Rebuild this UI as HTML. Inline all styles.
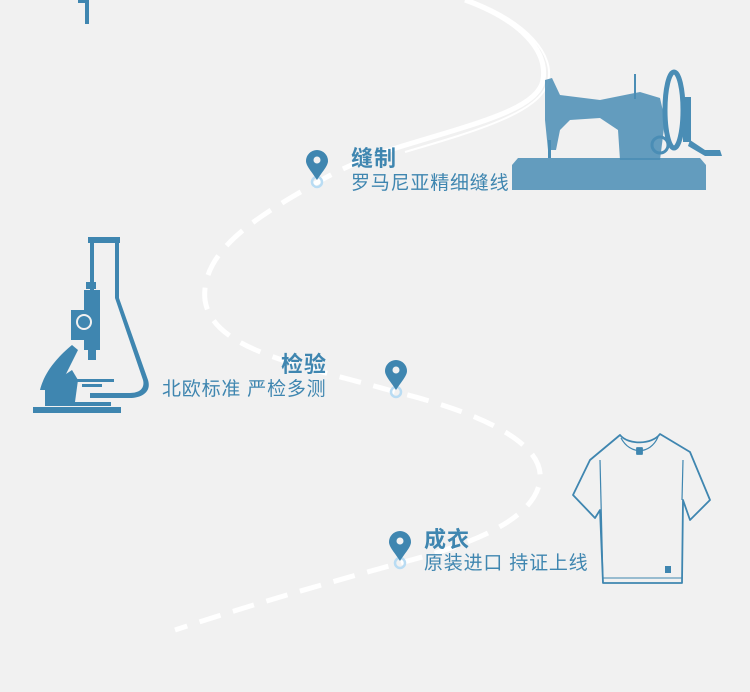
<!DOCTYPE html>
<html><head><meta charset="utf-8"><style>
body{margin:0;background:#f1f1f1;}
#c{position:relative;width:750px;height:692px;overflow:hidden;background:#f1f1f1;font-family:"Liberation Sans","Noto Sans CJK SC",sans-serif;color:#3f86b0}
.t{position:absolute;white-space:nowrap}
.h{font-size:22px;font-weight:bold;letter-spacing:1px}
.s{font-size:19px;letter-spacing:0.8px}
</style></head><body><div id="c">
<svg width="750" height="692" style="position:absolute;left:0;top:0">
<g fill="none" stroke="#fff" stroke-linecap="butt">
<path d="M465,0 C520,20 548,50 543,80 C538,110 470,125 396,148" stroke-width="5"/>
<path d="M470,0 C528,22 555,55 548,82 C540,112 480,130 405,152" stroke-width="2"/>
<path d="M396,148 C360,160 335,172 318,182 C260,215 200,250 205,300 C212,350 300,365 396,392 C470,410 545,440 540,480 C535,520 470,545 400,563 C320,585 250,605 175,630" stroke-width="5" stroke-dasharray="22,13"/>
</g>
<g>
<circle cx="317" cy="182" r="5" fill="none" stroke="#b9dcf3" stroke-width="2.5"/>
<path d="M317,180 C312,172 306,166 306,161 A11,11 0 1 1 328,161 C328,166 322,172 317,180Z" fill="#3f86b0"/><circle cx="317" cy="160" r="3.5" fill="#f1f1f1"/>
<circle cx="396" cy="392" r="5" fill="none" stroke="#b9dcf3" stroke-width="2.5"/>
<path d="M396,390 C391,382 385,376 385,371 A11,11 0 1 1 407,371 C407,376 401,382 396,390Z" fill="#3f86b0"/><circle cx="396" cy="370" r="3.5" fill="#f1f1f1"/>
<circle cx="400" cy="563" r="5" fill="none" stroke="#b9dcf3" stroke-width="2.5"/>
<path d="M400,561 C395,553 389,547 389,542 A11,11 0 1 1 411,542 C411,547 405,553 400,561Z" fill="#3f86b0"/><circle cx="400" cy="541" r="3.5" fill="#f1f1f1"/>
</g>
<rect x="85" y="0" width="4" height="24" fill="#3f86b0"/><rect x="78" y="0" width="8" height="3" fill="#3f86b0"/>
<g fill="#4a8db5">
<path d="M512,165 L518,158 L700,158 L706,165 L706,190 L512,190Z" opacity="0.85"/>
<path d="M545,80 L552,78 L560,95 L600,100 L640,92 L660,98 L665,120 L660,160 L620,160 L618,130 L600,118 L570,120 L560,130 L556,150 L548,150 L545,120Z" opacity="0.85"/>
<ellipse cx="674" cy="110" rx="9" ry="38" fill="none" stroke="#4a8db5" stroke-width="5"/>
<rect x="634" y="74" width="2" height="25"/>
<rect x="683" y="97" width="8" height="45"/>
<path d="M690,140 L705,150 L720,150 L722,156 L705,156 L688,146Z"/>
<circle cx="660" cy="145" r="8" fill="none" stroke="#4a8db5" stroke-width="3"/>
<rect x="548" y="140" width="3" height="18"/>
</g>
<g fill="#3f86b0">
<rect x="88" y="237" width="32" height="6"/>
<rect x="90" y="243" width="4" height="60"/>
<rect x="115" y="243" width="4" height="55"/>
<path d="M115,298 L119,298 L148,380 C152,393 140,398 130,398 L90,398 L90,393 L130,393 C140,393 145,388 143,380Z"/>
<rect x="86" y="282" width="10" height="7"/>
<rect x="84" y="290" width="16" height="60"/>
<rect x="71" y="310" width="14" height="30"/>
<circle cx="84" cy="322" r="8" fill="#f1f1f1"/><circle cx="84" cy="322" r="6" fill="#3f86b0"/>
<rect x="88" y="350" width="8" height="10"/>
<path d="M40,390 C45,370 60,355 72,345 L78,350 L62,382 L62,402 L45,402 L45,390Z"/>
<path d="M60,378 L72,370 L78,380 L75,402 L60,402Z"/>
<rect x="64" y="379" width="50" height="3"/><rect x="82" y="384" width="20" height="3"/>
<rect x="45" y="402" width="66" height="4"/>
<rect x="33" y="407" width="88" height="6"/>
</g>
<g fill="none" stroke="#3f86b0" stroke-width="1.8" stroke-linejoin="round">
<path d="M620,435 C628,445 652,445 660,434 L690,452 L710,500 L690,520 L683,500 L682,583 L603,583 L600,510 L595,518 L573,495 L590,460Z"/>
<path d="M621,438 C630,455 650,455 658,437" stroke-width="1.2"/>
<path d="M600,460 L603,583" stroke-width="1.2"/><path d="M683,460 L682,500" stroke-width="1.2"/>
<path d="M603,578 L682,578" stroke-width="1"/>
<rect x="637" y="448" width="5" height="6" fill="#3f86b0"/>
<rect x="665" y="566" width="6" height="7" fill="#3f86b0" stroke="none"/>
</g>
</svg>
<div class="t h" style="left:351px;top:141px">缝制</div>
<div class="t s" style="left:351px;top:168px">罗马尼亚精细缝线</div>
<div class="t h" style="left:281px;top:347px">检验</div>
<div class="t s" style="left:162px;top:374px">北欧标准 严检多测</div>
<div class="t h" style="left:424px;top:522px">成衣</div>
<div class="t s" style="left:424px;top:548px">原装进口 持证上线</div>
</div></body></html>
